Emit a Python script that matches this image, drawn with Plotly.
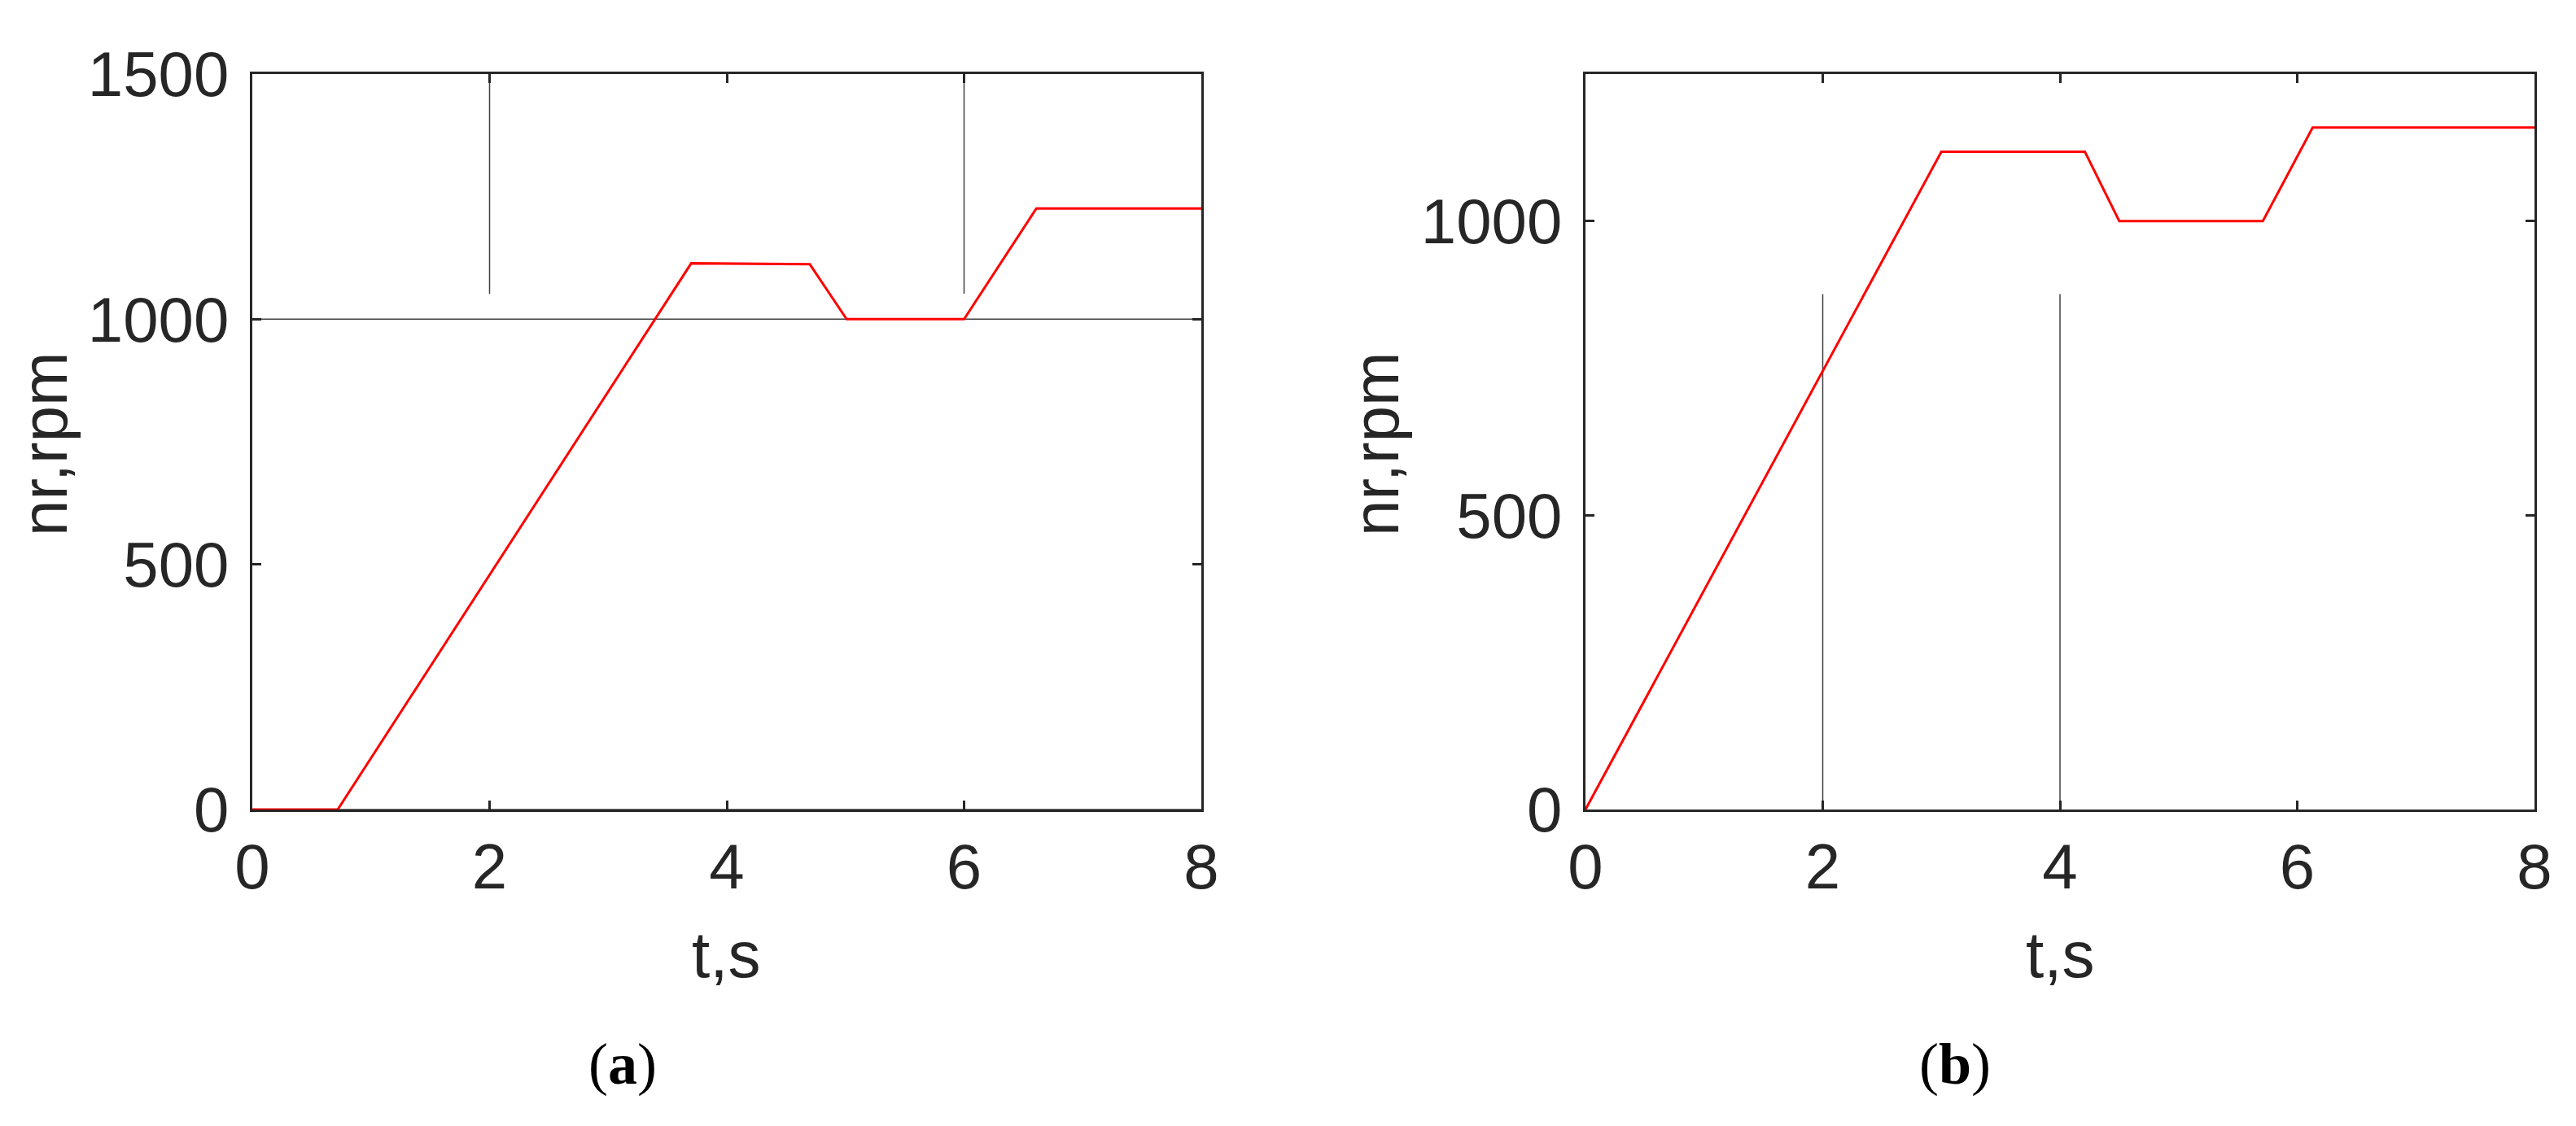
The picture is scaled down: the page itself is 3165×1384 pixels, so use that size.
import plotly.graph_objects as go

# panel (a): rotor speed
t_a = [0, 0.72, 3.70, 4.70, 5.01, 6.00, 6.61, 8.0]
n_a = [0, 0, 1114, 1112, 1000, 1000, 1226, 1226]
# panel (a): reference marks
ref_a_t = [0, 8, None, 0, 8, None, 2, 2, None, 6, 6]
ref_a_n = [1000, 1000, None, 0, 0, None, 1052, 1500, None, 1052, 1500]

# panel (b): rotor speed
t_b = [0, 3.00, 4.21, 4.50, 5.71, 6.13, 8.0]
n_b = [0, 1118, 1118, 1000, 1000, 1159, 1159]
# panel (b): reference marks
ref_b_t = [2, 2, None, 4, 4]
ref_b_n = [0, 876, None, 0, 876]

x_ticks = [0, 2, 4, 6, 8]
y_ticks_a = [0, 500, 1000, 1500]
y_ticks_b = [0, 500, 1000]

W, H = 3165, 1384
ink = "#262626"
font = "Liberation Sans, Arial, sans-serif"

fig = go.Figure()
fig.add_trace(go.Scatter(x=ref_a_t, y=ref_a_n, mode="lines", line=dict(color="#404040", width=1.5),
                         xaxis="x", yaxis="y", hoverinfo="skip"))
fig.add_trace(go.Scatter(x=t_a, y=n_a, mode="lines", line=dict(color="#ff0000", width=3),
                         xaxis="x", yaxis="y"))
fig.add_trace(go.Scatter(x=ref_b_t, y=ref_b_n, mode="lines", line=dict(color="#404040", width=1.5),
                         xaxis="x2", yaxis="y2", hoverinfo="skip"))
fig.add_trace(go.Scatter(x=t_b, y=n_b, mode="lines", line=dict(color="#ff0000", width=3),
                         xaxis="x2", yaxis="y2"))

ydom = [1 - 987 / H, 1 - 83 / H]
ax_common = dict(showline=True, linecolor=ink, linewidth=3, mirror="allticks",
                 ticks="inside", ticklen=11, tickwidth=3, tickcolor=ink,
                 showgrid=False, zeroline=False, automargin=False,
                 tickfont=dict(family=font, size=78, color=ink))

fig.update_layout(
    width=W, height=H,
    margin=dict(l=0, r=0, t=0, b=0, pad=0, autoexpand=False),
    paper_bgcolor="white", plot_bgcolor="white",
    showlegend=False,
    xaxis=dict(domain=[302 / W, 1468 / W], range=[0, 8], tickvals=x_ticks, anchor="y", **ax_common),
    yaxis=dict(domain=ydom, range=[0, 1500], tickvals=y_ticks_a, anchor="x",
               ticklabelstandoff=10, **ax_common),
    xaxis2=dict(domain=[1940 / W, 3106 / W], range=[0, 8], tickvals=x_ticks, anchor="y2", **ax_common),
    yaxis2=dict(domain=ydom, range=[0, 1250], tickvals=y_ticks_b, anchor="x2",
                ticklabelstandoff=10, **ax_common),
)

labels = [
    dict(x=884 / W, y=1 - 1165 / H, text="t,s", rot=0),
    dict(x=2523 / W, y=1 - 1165 / H, text="t,s", rot=0),
    dict(x=47 / W, y=1 - 538 / H, text="nr,rpm", rot=-90),
    dict(x=1683 / W, y=1 - 538 / H, text="nr,rpm", rot=-90),
]
for lb in labels:
    fig.add_annotation(x=lb["x"], y=lb["y"], xref="paper", yref="paper", text=lb["text"],
                       textangle=lb["rot"], showarrow=False, xanchor="center", yanchor="middle",
                       font=dict(family=font, size=80, color=ink))

for xpos, letter in [(757, "a"), (2394, "b")]:
    fig.add_annotation(x=xpos / W, y=1 - 1300 / H, xref="paper", yref="paper",
                       text="(<b>" + letter + "</b>)", showarrow=False,
                       xanchor="center", yanchor="middle",
                       font=dict(family="Liberation Serif, Times New Roman, serif", size=72, color="black"))

fig.write_html("out.html")
